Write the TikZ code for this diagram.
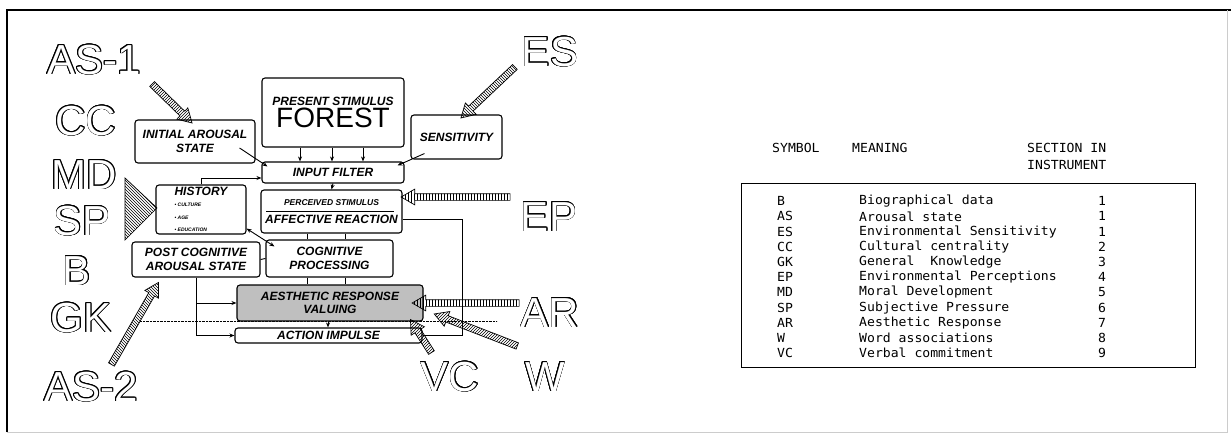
\documentclass[tikz,border=0pt]{standalone}
\usepackage{fontspec}
\setmainfont{Liberation Sans}
\setsansfont{Liberation Sans}
\newfontfamily\tabfont[FakeStretch=1.05]{DejaVu Sans Mono}
\usepackage[copies]{contour}
\contourlength{0.75pt}
\usepackage{tikz}
\usetikzlibrary{positioning, arrows.meta, calc, patterns, shapes.arrows}

\newcommand{\hollow}[1]{\textcolor{white}{\contour{black}{#1}}}
\newcommand{\tinyfont}{\fontsize{5}{6}\selectfont}
% striped arrow from a tail coordinate to a tip coordinate
\newcommand{\harrow}[3][north east lines]{%
  \path let \p1=($(#3)-(#2)$), \n1={veclen(\x1,\y1)} in
    (#2) -- node[hatched, pattern=#1, minimum height=\n1] {} (#3);}

\begin{document}
\begin{tikzpicture}[x=1pt, y=-1pt,
    box/.style={draw, line width=1.1pt, rounded corners=3pt, align=center, inner sep=1pt,
                font=\bfseries\itshape\fontsize{12}{13.5}\selectfont},
    big/.style={font=\fontsize{42}{42}\selectfont, inner sep=0pt},
    tab/.style={font=\tabfont\fontsize{12.5}{13}\selectfont, anchor=west, inner sep=0pt},
    hatched/.style={single arrow, draw, line width=0.7pt, sloped, allow upside down,
                text height=6pt, text depth=0pt, minimum width=15pt,
                single arrow head extend=4.5pt, single arrow tip angle=60, inner sep=0pt},
    link/.style={line width=0.9pt},
    >={Stealth[length=5pt,width=4pt]},
  ]
  \useasboundingbox (0,0) rectangle (1231,436);
  % frame
  \draw[line width=1.5pt] (7,432) -- (7,10) -- (1231,10);
  \draw[black!20] (7,432) -- (1227,432) -- (1227,10);

  % columns for the short links
  \coordinate (f1) at (300,0);
  \coordinate (f2) at (332,0);
  \coordinate (f3) at (363,0);
  \coordinate (xa) at (307,0);
  \coordinate (xb) at (345,0);
  \coordinate (xc) at (328,0);
  \coordinate (loopr) at (462,0);
  \coordinate (dotl) at (140,321);
  \coordinate (dotr) at (497,321);
  \draw[densely dotted] (dotl) -- (dotr);

  % outlined symbols
  \node[big] (as1) at (94,60) {\hollow{AS-1}};
  \node[big] (cc) at (86,121) {\hollow{CC}};
  \node[big] (md) at (84,175) {\hollow{MD}};
  \node[big] (sp) at (82,221) {\hollow{SP}};
  \node[big] (b) at (77,271) {\hollow{B}};
  \node[big] (gk) at (81,318) {\hollow{GK}};
  \node[big] (as2) at (91,387) {\hollow{AS-2}};
  \node[big] (es) at (550,52) {\hollow{ES}};
  \node[big] (ep) at (549,217) {\hollow{EP}};
  \node[big] (ar) at (550,313) {\hollow{AR}};
  \node[big] (vc) at (450,377) {\hollow{VC}};
  \node[big] (w) at (545,377) {\hollow{W}};

  % model boxes
  \node[box, minimum width=142pt, minimum height=69pt] (forest) at (333,112.5)
    {PRESENT STIMULUS\\[2pt]{\mdseries\upshape\fontsize{28}{30}\selectfont FOREST}};
  \node[box, minimum width=120pt, minimum height=43pt] (init) at (195,141.5) {INITIAL AROUSAL\\STATE};
  \node[box, minimum width=91pt, minimum height=44pt] (sens) at (456.5,137) {SENSITIVITY};
  \node[box, minimum width=142pt, minimum height=21pt] (filter) at (333,172.5) {INPUT FILTER};
  \node[box, minimum width=90pt, minimum height=49pt, align=left] (hist) at (201,209.5)
    {HISTORY\\[-2pt]\tinyfont\textbullet\ CULTURE\\[-1pt]\tinyfont\textbullet\ AGE\\[-1pt]\tinyfont\textbullet\ EDUCATION};
  \node[box, minimum width=141pt, minimum height=43pt] (percv) at (331.5,211.5)
    {{\fontsize{8.5}{9}\selectfont PERCEIVED STIMULUS}\\[4pt]AFFECTIVE REACTION};
  \node[box, minimum width=128pt, minimum height=35pt] (post) at (196,259.5) {POST COGNITIVE\\AROUSAL STATE};
  \node[box, minimum width=127pt, minimum height=37pt] (cog) at (329.5,258.5) {COGNITIVE\\PROCESSING};
  \node[box, fill=black!25, minimum width=186pt, minimum height=36pt] (aesth) at (330,303) {AESTHETIC RESPONSE\\VALUING};
  \node[box, minimum width=187pt, minimum height=15pt, inner sep=0pt] (action) at (328.5,335.5) {ACTION IMPULSE};

  % links
  \foreach \c in {f1,f2,f3}
    \draw[link, ->] (forest.south -| \c) -- (filter.north -| \c);
  \draw[link, ->] ([shift={(-16pt,-6.5pt)}]init.east) -- ([shift={(6pt,-5pt)}]filter.north west);
  \draw[link, ->] ([shift={(14pt,6pt)}]sens.south west) -- ([shift={(-7pt,-4pt)}]filter.north east);
  \draw[link, ->] (hist.north) |- ([yshift=-5.5pt]filter.west);
  \draw[link, ->] (filter.south) -- (percv.north);
  \draw ([shift={(6pt,0pt)}]percv.west) -- ([shift={(-9pt,0pt)}]percv.east);
  \draw[link, <->] ([yshift=6pt]hist.south east) -- ([shift={(9pt,-7pt)}]cog.north west);
  \foreach \c in {xa,xb} {
    \draw[link] (percv.south -| \c) -- (cog.north -| \c);
    \draw[link] (cog.south -| \c) -- (aesth.north -| \c);
  }
  \draw[link] (post.east) -- (cog.west);
  \draw[link, ->] (aesth.south -| xc) -- (action.north -| xc);
  \draw[link, ->] (post.south) |- (aesth.west);
  \draw[link, ->] (post.south) |- (action.west);
  \draw[link] ([yshift=-8pt]percv.east) -| (action.east -| loopr) -- (action.east);

  % striped arrows and wedge
  \coordinate (as1t) at (150,82);   \coordinate (as1h) at (190,121);
  \coordinate (est) at (517,65);    \coordinate (esh) at (463,116);
  \coordinate (ept) at (513,197);   \coordinate (eph) at (404,197);
  \coordinate (as2t) at (110,367);  \coordinate (as2h) at (157,285);
  \coordinate (art) at (522,303);   \coordinate (arh) at (415,303);
  \coordinate (wt) at (520,347);    \coordinate (wh) at (437,315);
  \coordinate (vct) at (433,355);   \coordinate (vch) at (412,322);
  \harrow{as1t}{as1h}
  \harrow[north west lines]{est}{esh}
  \harrow[vertical lines]{ept}{eph}
  \harrow[north west lines]{as2t}{as2h}
  \harrow[vertical lines]{art}{arh}
  \harrow{wt}{wh}
  \harrow{vct}{vch}
  \draw[line width=0.7pt, pattern=north west lines] (125,178) -- (157,208) -- (125,240) -- cycle;

  % symbol table
  \node[tab] (hsym) at (772,148) {SYMBOL};
  \node[tab] (hmean) at (852,148) {MEANING};
  \node[tab] (hsec) at (1027,148) {SECTION IN};
  \node[tab] (hins) at (1027,165) {INSTRUMENT};
  \draw[line width=1pt] (741,183) rectangle (1195,367);
  \foreach \s/\m/\n [count=\i] in {B/Biographical data/1, AS/Arousal state/1,
      ES/Environmental Sensitivity/1, CC/Cultural centrality/2, GK/General~~Knowledge/3,
      EP/Environmental Perceptions/4, MD/Moral Development/5, SP/Subjective Pressure/6,
      AR/Aesthetic Response/7, W/Word associations/8, VC/Verbal commitment/9} {
    \node[tab] (sym\i) at (777,{186+15.2*\i}) {\s};
    \node[tab] (mean\i) at (859,{186+15.2*\i}) {\m};
    \node[tab] (sec\i) at (1098,{186+15.2*\i}) {\n};
  }
\end{tikzpicture}
\end{document}
